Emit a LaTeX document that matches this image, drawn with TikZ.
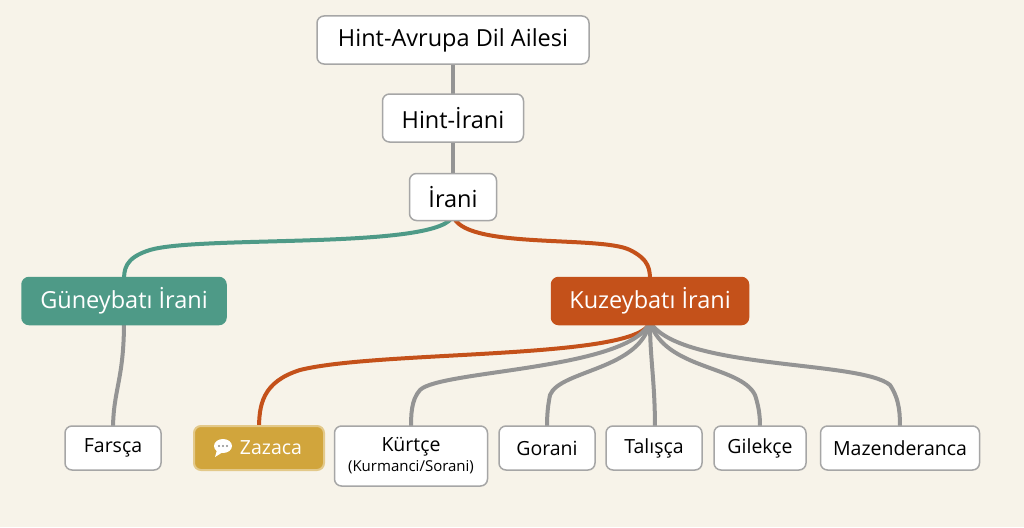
\documentclass[tikz,border=0pt]{standalone}
\usepackage{fontspec}
\setmainfont{Open Sans}
\begin{document}
\begin{tikzpicture}[x=1pt,y=-1pt,
 box/.style={draw=black!35,line width=1.5pt,fill=white,rounded corners=7pt,inner sep=0pt,align=center},
 edge/.style={draw=black!42,line width=4pt,line cap=round},
 teal/.style={draw=tealc,line width=4pt},
 oran/.style={draw=oranc,line width=4pt}]
\definecolor{bg}{HTML}{F7F3E9}
\definecolor{tealc}{HTML}{4E9A87}
\definecolor{oranc}{HTML}{C4511A}
\definecolor{gold}{HTML}{D1A53C}
\fill[bg] (0,0) rectangle (1024,527);
\useasboundingbox (0,0) rectangle (1024,527);
\coordinate (kb) at (650,322);
\draw[edge] (453,60) -- (453,98);
\draw[edge] (453,138) -- (453,177);
\draw[teal] (453,215) .. controls (445,250) and (200,235) .. (150,250) .. controls (124,258) and (124,270) .. (124,282);
\draw[oran] (453,215) .. controls (461,250) and (600,235) .. (630,250) .. controls (650,260) and (650,270) .. (650,282);
\draw[edge] (124,322) .. controls (124,380) and (113,390) .. (113,430);
\draw[oran] (kb) .. controls (640,360) and (380,350) .. (300,370) .. controls (262,382) and (259,405) .. (259,430);
\draw[edge] (kb) .. controls (630,370) and (440,370) .. (420,390) .. controls (411,400) and (411,415) .. (411,430);
\draw[edge] (kb) .. controls (640,370) and (560,370) .. (550,395) .. controls (547,410) and (547,420) .. (547,430);
\draw[edge] (kb) .. controls (650,360) and (655,380) .. (655,430);
\draw[edge] (kb) .. controls (665,370) and (740,365) .. (755,395) .. controls (760,410) and (760,420) .. (760,430);
\draw[edge] (kb) .. controls (680,370) and (860,360) .. (890,385) .. controls (900,400) and (900,415) .. (900,430);
\tikzset{big/.style={box,font=\fontsize{23.5}{28}\selectfont}}
\node[big,minimum width=272,minimum height=48] (ha) at (453,40) {Hint-Avrupa Dil Ailesi};
\node[big,minimum width=141,minimum height=48] (hi) at (453,118) {Hint-İrani};
\node[big,minimum width=87,minimum height=47] (ir) at (453,197) {İrani};
\node[big,draw=tealc,fill=tealc,text=white,minimum width=204,minimum height=47] (gb) at (124,301) {Güneybatı İrani};
\node[big,draw=oranc,fill=oranc,text=white,minimum width=197,minimum height=47] (kz) at (650,301) {Kuzeybatı İrani};
\tikzset{leaf/.style={box,minimum height=44,font=\fontsize{19.5}{23}\selectfont}}
\node[leaf,minimum width=96] (fa) at (113,448) {Farsça};
\node[leaf,draw=gold!60!white,fill=gold,text=white,minimum width=130,line width=2pt] (za) at (259,448) {\hspace{24pt}Zazaca};
\fill[white] (223,446) ellipse (9 and 7);
\fill[white] (217,450) -- (215,457) -- (223,452) -- cycle;
\foreach \dx in {-4,0,4} \fill[black!45] (223+\dx,446) circle (1.1);
\node[leaf,minimum width=153,minimum height=60] (ku) at (411,456) {Kürtçe\\[-3pt]{\fontsize{15}{17}\selectfont(Kurmanci/Sorani)}};
\node[leaf,minimum width=96] (go) at (547,448) {Gorani};
\node[leaf,minimum width=96] (ta) at (654,448) {Talışça};
\node[leaf,minimum width=92] (gi) at (760,448) {Gilekçe};
\node[leaf,minimum width=159] (ma) at (900,448) {Mazenderanca};
\end{tikzpicture}
\end{document}
